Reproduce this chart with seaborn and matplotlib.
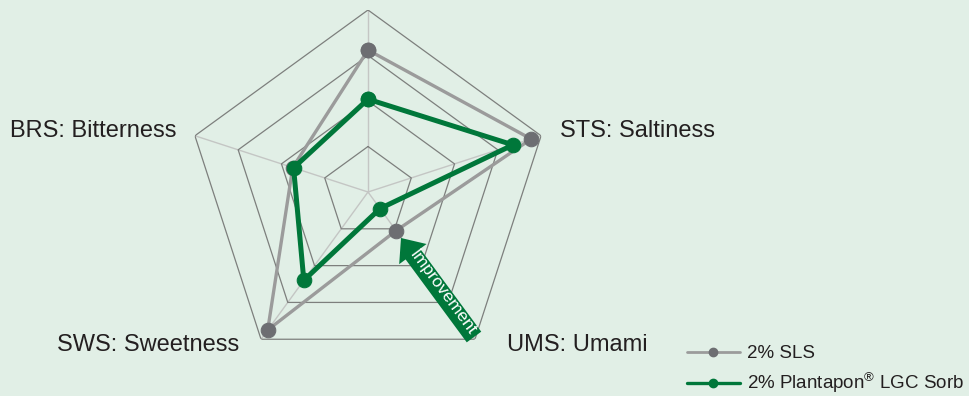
import numpy as np
import pandas as pd
import matplotlib
matplotlib.use("Agg")
import matplotlib.pyplot as plt
import seaborn as sns
from matplotlib.lines import Line2D
from matplotlib.patches import FancyArrow
from matplotlib.transforms import Affine2D

# Sensory attributes (clockwise from the top spoke)
attributes = ["", "STS: Saltiness", "UMS: Umami", "SWS: Sweetness", "BRS: Bitterness"]
sls_scores = [3.12, 3.77, 1.05, 3.75, 1.74]
plantapon_scores = [2.04, 3.35, 0.45, 2.40, 1.72]
series_names = ["2% SLS", "2% Plantapon$^{\\mathrm{®}}$ LGC Sorb"]
ring_levels = [1, 2, 3, 4]

BG = "#e1efe6"
GREEN = "#00773a"
GREY_LINE = "#9b9b9b"
GREY_DOT = "#6d6e72"

sns.set_theme(style="white")
plt.rcParams["font.family"] = ["Liberation Sans", "DejaVu Sans"]
plt.rcParams["mathtext.fontset"] = "custom"
plt.rcParams["mathtext.rm"] = "Liberation Sans"

W, H = 969, 396
fig = plt.figure(figsize=(W / 100, H / 100), dpi=100, facecolor=BG)

cx, cy, R = 368, 192, 182
ax = fig.add_axes([(cx - R) / W, (H - cy - R) / H, 2 * R / W, 2 * R / H],
                  projection="polar")
ax.set_facecolor("none")
ax.set_theta_offset(np.pi / 2)
ax.set_theta_direction(-1)
ax.set_ylim(0, max(ring_levels))
ax.grid(False)
ax.spines["polar"].set_visible(False)
ax.set_xticks([])
ax.set_yticks([])

n = len(attributes)
theta = np.linspace(0, 2 * np.pi, n, endpoint=False)
theta_closed = np.append(theta, 2 * np.pi)

# spokes
for t in theta:
    ax.plot([t, t], [0, max(ring_levels)], color="#c4c6c4", lw=1.0, zorder=1)

# pentagonal rings
for lvl in ring_levels:
    ax.plot(theta_closed, [lvl] * (n + 1), color="#7d7f7d", lw=0.9, zorder=1.5)


def closed_frame(scores, name):
    return pd.DataFrame({
        "theta": theta_closed,
        "score": list(scores) + [scores[0]],
        "series": name,
    })


df_sls = closed_frame(sls_scores, series_names[0])
df_pl = closed_frame(plantapon_scores, series_names[1])

sns.lineplot(data=df_sls, x="theta", y="score", ax=ax, sort=False, estimator=None,
             color=GREY_LINE, linewidth=2.4, marker="o", markersize=10.5,
             markerfacecolor=GREY_DOT, markeredgecolor=GREY_DOT, zorder=3)
sns.lineplot(data=df_pl, x="theta", y="score", ax=ax, sort=False, estimator=None,
             color=GREEN, linewidth=3.6, marker="o", markersize=10.5,
             markerfacecolor=GREEN, markeredgecolor=GREEN, zorder=4)
ax.set_xlabel("")
ax.set_ylabel("")
ax.set_ylim(0, max(ring_levels))

# attribute labels next to the outer vertices
label_offsets = {1: (19, -1, "left"), 2: (32, -12, "left"),
                 3: (-22, -12, "right"), 4: (-18, -1, "right")}
for i, txt in enumerate(attributes):
    if not txt:
        continue
    dx, dy, ha = label_offsets[i]
    ax.annotate(txt, xy=(theta[i], max(ring_levels)), xytext=(dx, dy),
                textcoords="offset pixels", ha=ha, va="baseline",
                fontsize=17, color="#231f20", annotation_clip=False)

# "Improvement" arrow, drawn in pixel units
px = Affine2D().scale(1 / W, 1 / H) + fig.transFigure
tail = (474, H - 337)
tip = (401, H - 238)
dx, dy = tip[0] - tail[0], tip[1] - tail[1]
arrow = FancyArrow(tail[0], tail[1], dx, dy, width=18, head_width=34,
                   head_length=20, length_includes_head=True,
                   transform=px, color=GREEN, lw=0, zorder=6)
fig.add_artist(arrow)
ang = np.degrees(np.arctan2(-dy, -dx))
fig.text(443 / W, (H - 292) / H, "Improvement", rotation=ang,
         rotation_mode="anchor", ha="center", va="center", color="white",
         fontsize=12.5, zorder=7)

# legend
handles = [
    Line2D([], [], color=GREY_LINE, lw=2.0, marker="o", markersize=6,
           markerfacecolor=GREY_DOT, markeredgecolor=GREY_DOT),
    Line2D([], [], color=GREEN, lw=2.4, marker="o", markersize=6,
           markerfacecolor=GREEN, markeredgecolor=GREEN),
]
fig.legend(handles, series_names, loc="upper left",
           bbox_to_anchor=(687 / W, (H - 345) / H), frameon=False,
           fontsize=13.5, handlelength=2.8, handletextpad=0.42,
           labelspacing=0.45, borderpad=0, borderaxespad=0,
           labelcolor="#231f20")

fig.savefig("out.png", dpi=100, facecolor=BG)
